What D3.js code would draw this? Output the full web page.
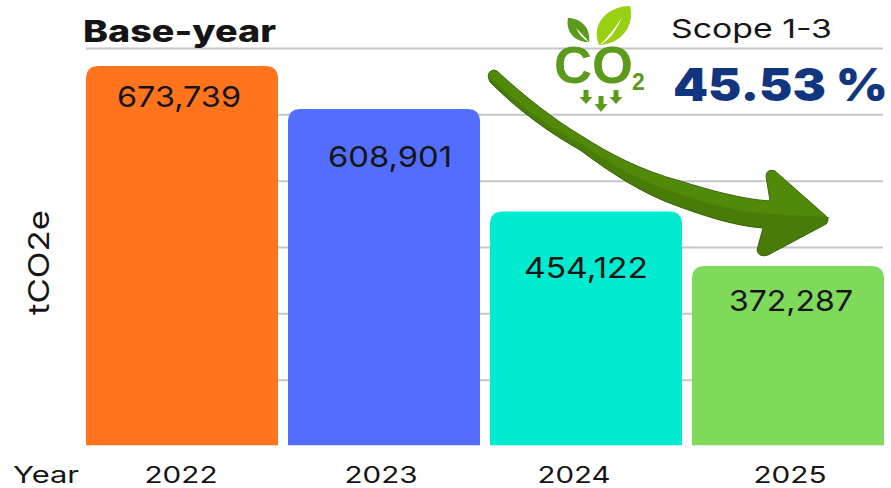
<!DOCTYPE html>
<html>
<head>
<meta charset="utf-8">
<script src="https://cdn.jsdelivr.net/npm/d3@7"></script>
<style>
html,body{margin:0;padding:0;background:#fff;overflow:hidden}
text{font-family:Inter,"Noto Sans",sans-serif;fill:#151515}
</style>
</head>
<body>
<svg id="c" width="891" height="488"></svg>
<script>
const years = ["2022","2023","2024","2025"];
const emissions = [673739,608901,454122,372287];
const barColors = ["#ff741d","#536dfe","#00ebd0","#7fd95b"];
const yTicks = [200000,300000,400000,500000,600000,700000];
const axisFloor = 102000;
const labelBaseline = [107,167,278,311];
const labelDx = [-3,6,0,3];
const yearDx = [-1,-3,-12,2];

const svg = d3.select("#c");
const x = d3.scaleBand().domain(years).range([86,884]).paddingInner(10/202).paddingOuter(0);
const y = d3.scaleLinear().domain([100000,700000]).range([446.5,48.5]);

svg.append("g").selectAll("line").data(yTicks).join("line")
  .attr("x1",86).attr("x2",883).attr("y1",d=>y(d)).attr("y2",d=>y(d))
  .attr("stroke","#c6c6ca").attr("stroke-width",2);

const r = 13, bw = x.bandwidth();
svg.append("g").selectAll("path").data(years).join("path")
  .attr("fill",(d,i)=>barColors[i])
  .attr("d",(d,i)=>{
    const l=x(d), t=y(emissions[i]), b=y(axisFloor);
    return `M${l},${b}V${t+r}Q${l},${t} ${l+r},${t}H${l+bw-r}Q${l+bw},${t} ${l+bw},${t+r}V${b}Z`;
  });

function fitText(sel,len){return sel.attr("textLength",len).attr("lengthAdjust","spacingAndGlyphs");}

svg.append("g").selectAll("text").data(years).join("text")
  .attr("text-anchor","middle")
  .attr("x",d=>x(d)+bw/2)
  .attr("dx",(d,i)=>labelDx[i])
  .attr("y",(d,i)=>labelBaseline[i])
  .attr("font-size",29)
  .attr("textLength",124).attr("lengthAdjust","spacingAndGlyphs")
  .text((d,i)=>d3.format(",")(emissions[i]));

svg.append("g").selectAll("text").data(years).join("text")
  .attr("text-anchor","middle")
  .attr("x",d=>x(d)+bw/2)
  .attr("dx",(d,i)=>yearDx[i])
  .attr("y",483)
  .attr("font-size",23)
  .attr("textLength",73).attr("lengthAdjust","spacingAndGlyphs")
  .text(d=>d);

fitText(svg.append("text").attr("x",13).attr("y",483).attr("font-size",23),66).text("Year");
fitText(svg.append("text").attr("transform","translate(49,315) rotate(-90)").attr("font-size",29),105).text("tCO2e");
fitText(svg.append("text").attr("x",83).attr("y",42).attr("font-size",30).attr("font-weight",800),193).text("Base-year");
fitText(svg.append("text").attr("x",671).attr("y",38).attr("font-size",26),161).text("Scope 1-3");
fitText(svg.append("text").attr("x",673).attr("y",101).attr("font-size",45).attr("font-weight",900).style("fill","#12357f"),215).text("45.53 %");

const logo = svg.append("g");
logo.append("path").attr("fill","#5c9a1b")
  .attr("d","M568,18 C580,18 591,27 589,42 C577,43 565,33 568,18Z");
logo.append("path").attr("fill","#fff")
  .attr("d","M576,28 C580,32 585,37 589,42 C583,39 579,34 576,28Z");
logo.append("path").attr("fill","#9ad012")
  .attr("d","M630,6 C635,25 622,44 599,45 C590,24 608,6 630,6Z");
logo.append("path").attr("fill","#fff")
  .attr("d","M622,17 C615,28 608,37 600,45 C610,40 617,29 622,17Z");
fitText(logo.append("text").attr("x",554).attr("y",83).attr("font-size",52).attr("font-weight",700)
  .style("font-family","'Liberation Sans',sans-serif").style("fill","#5c9a1b"),79).text("CO");
logo.append("text").attr("x",632).attr("y",90).attr("font-size",23).attr("font-weight",700)
  .style("font-family","'Liberation Sans',sans-serif").style("fill","#5c9a1b").text("2");
const smallArrow=(cx,top,h)=>`M${cx-2.5},${top}h5v${h*0.5}h4l-6.5,${h*0.5}l-6.5,${-h*0.5}h4Z`;
logo.append("path").attr("fill","#5c9a1b")
  .attr("d",smallArrow(586,90,14)+smallArrow(601,96,16)+smallArrow(616,90,14));

const arrow = svg.append("g");
const arrowOutline = "M497,71 C525,97 555,120 580,135 C610,154 640,170 680,181 C710,190 740,199 770,201 L766,176 Q767,168 775,171 L826,216 Q830,220 826,224 L768,255 Q759,258 757,250 L763,228 C735,226 705,216 680,207 C640,193 610,172 580,150 C550,133 520,112 490,82 Q486,74 491,71 Q494,69 497,71Z";
arrow.append("path").attr("fill","#518a08").attr("d",arrowOutline);
arrow.append("path").attr("fill","#487c08")
  .attr("d","M680,194 C710,205 745,213 773,214 C795,216 812,216 829,217 L826,224 L768,255 Q759,258 757,250 L763,228 C735,226 705,216 680,207 C640,193 610,172 580,150 C550,133 520,112 490,82 L491,78 C520,106 550,128 580,143 C610,164 640,182 680,194Z");
arrow.append("path").attr("fill","none").attr("stroke","#3d6410").attr("stroke-width",1).attr("stroke-linejoin","round").attr("d",arrowOutline);
</script>
</body>
</html>
